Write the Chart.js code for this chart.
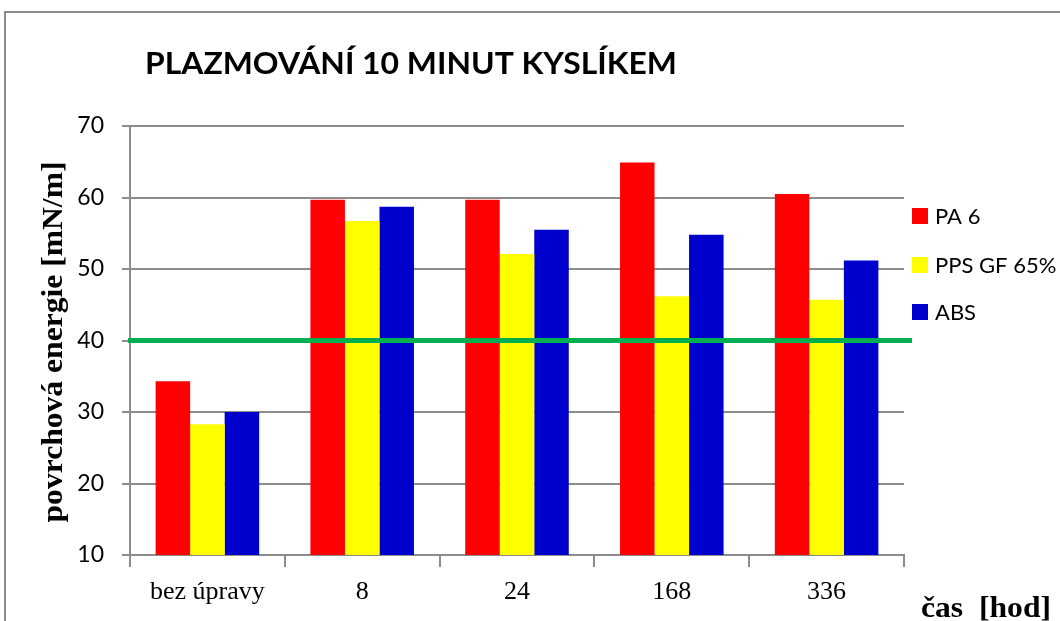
<!DOCTYPE html>
<html>
<head>
<meta charset="utf-8">
<script src="https://cdn.jsdelivr.net/npm/chart.js@4/dist/chart.umd.min.js"></script>
<style>
html,body{margin:0;padding:0;background:#fff;}
#wrap{width:1060px;height:621px;position:relative;}
</style>
</head>
<body>
<div id="wrap"><canvas id="c" width="1060" height="621"></canvas></div>
<script>
const categories = ['bez úpravy', '8', '24', '168', '336'];
const seriesNames = ['PA 6', 'PPS GF 65%', 'ABS'];
const pa6 = [34.3, 59.7, 59.7, 64.9, 60.5];
const ppsGf65 = [28.3, 56.7, 52.1, 46.2, 45.7];
const abs = [30.0, 58.7, 55.5, 54.8, 51.2];
const yTicks = [10, 20, 30, 40, 50, 60, 70];
const limitValue = 40;
const chartTitle = 'PLAZMOVÁNÍ 10 MINUT KYSLÍKEM';
const yTitle = 'povrchová energie [mN/m]';
const xTitle = 'čas  [hod]';

const colors = ['#FF0000', '#FFFF00', '#0000CC'];
const GRAY = '#8c8c8c';

function fitText(ctx, text, x, y, font, width, align) {
  ctx.save();
  ctx.font = font;
  const w = ctx.measureText(text).width;
  const s = width / w;
  ctx.translate(x, y);
  ctx.scale(s, 1);
  ctx.textAlign = align || 'left';
  ctx.fillText(text, 0, 0);
  ctx.restore();
}

const decor = {
  id: 'decor',
  beforeDraw(chart) {
    const ctx = chart.ctx;
    ctx.save();
    ctx.fillStyle = '#fff';
    ctx.fillRect(0, 0, chart.width, chart.height);
    ctx.strokeStyle = GRAY;
    ctx.lineWidth = 2;
    ctx.beginPath();
    ctx.moveTo(5, 621);
    ctx.lineTo(5, 12);
    ctx.lineTo(1060, 12);
    ctx.stroke();
    ctx.restore();
  },
  afterDatasetsDraw(chart) {
    const ctx = chart.ctx;
    const y = chart.scales.y.getPixelForValue(limitValue);
    ctx.save();
    ctx.strokeStyle = '#00B050';
    ctx.lineWidth = 5;
    ctx.beginPath();
    ctx.moveTo(chart.chartArea.left - 2, y);
    ctx.lineTo(912, y);
    ctx.stroke();
    ctx.restore();
  },
  afterDraw(chart) {
    const ctx = chart.ctx;
    ctx.save();
    ctx.fillStyle = '#000';
    ctx.textBaseline = 'alphabetic';
    // title
    fitText(ctx, chartTitle, 145, 74, 'bold 31px Lato', 532, 'left');
    // y title rotated
    ctx.save();
    ctx.translate(62, 342);
    ctx.rotate(-Math.PI / 2);
    fitText(ctx, yTitle, 0, 0, 'bold 30px "Liberation Serif"', 361, 'center');
    ctx.restore();
    // x title
    fitText(ctx, xTitle, 1051, 617, 'bold 30px "Liberation Serif"', 130, 'right');
    // legend
    const rows = [216, 265, 312];
    seriesNames.forEach((n, i) => {
      ctx.fillStyle = colors[i];
      ctx.fillRect(912, rows[i] - 8, 16, 16);
      ctx.fillStyle = '#000';
      ctx.font = '22px Lato';
      ctx.textBaseline = 'middle';
      ctx.textAlign = 'left';
      ctx.fillText(n, 935, rows[i] + 1);
    });
    ctx.restore();
  }
};

new Chart(document.getElementById('c'), {
  type: 'bar',
  data: {
    labels: categories,
    datasets: [
      { label: seriesNames[0], data: pa6, backgroundColor: colors[0] },
      { label: seriesNames[1], data: ppsGf65, backgroundColor: colors[1] },
      { label: seriesNames[2], data: abs, backgroundColor: colors[2] }
    ]
  },
  options: {
    responsive: false,
    animation: false,
    devicePixelRatio: 1,
    layout: { padding: { top: 126, right: 156, bottom: 0, left: 0 } },
    datasets: { bar: { categoryPercentage: 0.669, barPercentage: 1.0, borderWidth: 0 } },
    plugins: { legend: { display: false }, title: { display: false }, tooltip: { enabled: false } },
    scales: {
      x: {
        afterFit(s) { s.height = 66; },
        grid: { drawOnChartArea: false, drawTicks: true, tickLength: 12, color: GRAY, lineWidth: 2, offset: true },
        border: { display: true, color: GRAY, width: 2 },
        ticks: { color: '#000', font: { family: '"Liberation Serif"', size: 26 }, padding: 10, maxRotation: 0, autoSkip: false }
      },
      y: {
        min: 10, max: 70,
        afterFit(s) { s.width = 130; },
        afterBuildTicks(s) { s.ticks = yTicks.map(v => ({ value: v })); },
        grid: { color: GRAY, lineWidth: 2, drawTicks: true, tickLength: 8 },
        border: { display: true, color: GRAY, width: 2 },
        ticks: { color: '#000', font: { family: 'Lato', size: 23 }, padding: 18 }
      }
    }
  },
  plugins: [decor]
});
</script>
</body>
</html>
